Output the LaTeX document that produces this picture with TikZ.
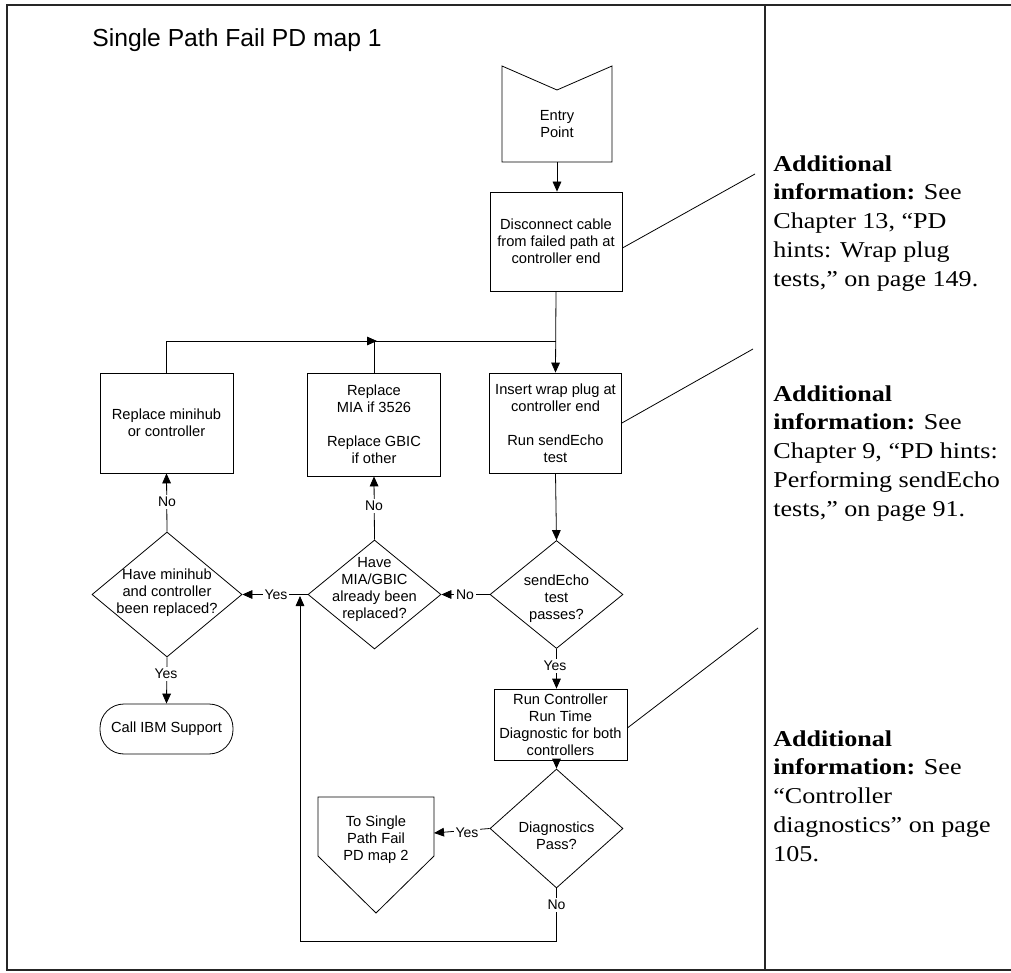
\documentclass[tikz,border=0pt]{standalone}
\usepackage{fontspec}
\setmainfont{Liberation Sans}
\newfontfamily\serifside[FakeStretch=1.15]{Liberation Serif}
\usetikzlibrary{arrows.meta,calc,shapes.geometric}
\begin{document}
\begin{tikzpicture}[x=0.75pt,y=-0.75pt,
  line width=0.6pt,
  every node/.style={inner sep=0pt},
  flowfont/.style={font=\fontsize{11}{12.75}\selectfont},
  flowbox/.style={draw, rectangle, align=center, flowfont},
  diam/.style={draw, diamond},
  dtext/.style={align=center, flowfont},
  lbl/.style={fill=white, inner sep=1.5pt, font=\fontsize{10.5}{12}\selectfont},
  arr/.style={-{Triangle[length=7.5pt,width=6.5pt]}},
  frame/.style={line width=1.2pt, black!85},
  side/.style={align=left, font=\serifside\fontsize{17}{21.6}\selectfont}
]
\useasboundingbox (0,0) rectangle (1011,973);
% frame
\draw[frame] (1011,5) -- (7,5) -- (7,970) -- (1011,970);
\draw[frame] (765,5) -- (765,970);

% title
\node[anchor=base west, font=\fontsize{18.5}{22}\selectfont] (title) at (92,47) {Single Path Fail PD map 1};

% entry point
\draw (502,66) -- (557,90) -- (612,66) -- (612,162) -- (502,162) -- cycle;
\node[minimum width=82.5pt, minimum height=72pt] (entry) at (557,114) {};
\node[dtext] (entrytxt) at (557,124) {Entry\\Point};

% boxes
\node[flowbox, minimum width=99pt, minimum height=74.25pt] (disc) at (556,241.5) {Disconnect cable\\from failed path at\\controller end};
\node[flowbox, minimum width=99pt, minimum height=75pt] (wrap) at (555.5,423) {Insert wrap plug at\\controller end\\\mbox{}\\Run sendEcho\\test};
\node[flowbox, minimum width=99.75pt, minimum height=77.25pt] (mia) at (374,424.5) {Replace\\MIA if 3526\\\mbox{}\\Replace GBIC\\if other};
\node[flowbox, minimum width=99.75pt, minimum height=75pt] (minibox) at (166.5,423) {Replace minihub\\or controller};
\node[flowbox, rounded corners=18pt, minimum width=99.75pt, minimum height=37.5pt] (ibm) at (166.5,729) {Call IBM Support};
\node[flowbox, minimum width=99.75pt, minimum height=53.25pt] (run) at (560.5,724.5) {Run Controller\\Run Time\\Diagnostic for both\\controllers};

% diamonds
\node[diam, minimum width=99.75pt, minimum height=81pt] (send) at (556.5,594.5) {};
\node[dtext] (sendtxt) at (556.5,599) {sendEcho\\test\\passes?};
\node[diam, minimum width=99.75pt, minimum height=81.75pt] (miadia) at (374.5,594.5) {};
\node[dtext] (miadiatxt) at (374.5,589) {Have\\MIA/GBIC\\already been\\replaced?};
\node[diam, minimum width=112.5pt, minimum height=93.75pt] (minidia) at (167,594.5) {};
\node[dtext] (minidiatxt) at (167,593) {Have minihub\\and controller\\been replaced?};
\node[diam, minimum width=99.75pt, minimum height=89.25pt] (diag) at (556.5,828.5) {};
\node[dtext] (diagtxt) at (556.5,836) {Diagnostics\\Pass?};

% off-page connector
\draw (318,797) -- (434,797) -- (434,856) -- (376,913) -- (318,856) -- cycle;
\node[dtext] (offtxt) at (376,840) {To Single\\Path Fail\\PD map 2};
\coordinate (offeast) at (434,833);

% coordinates
\coordinate (j1) at (377,341);
\coordinate (j2) at (556,341);
\coordinate (loopc) at (556.5,941);
\coordinate (loopend) at (300,596);
\coordinate (c1) at (755,174);
\coordinate (c2) at (753,349);
\coordinate (c3) at (758,628);

% connectors
\draw[arr] (entry.south) -- (entry.south |- disc.north);
\draw[arr] (disc.south) -- (wrap.north);
\draw[arr] (minibox.north) |- (j1);
\draw (mia.north) |- (j2);
\draw[arr] (wrap.south) -- (send.north);
\draw[arr] (send.west) -- (miadia.east);
\draw[arr] (miadia.north) -- (mia.south);
\draw[arr] (miadia.west) -- (minidia.east);
\draw[arr] (minidia.north) -- (minibox.south);
\draw[arr] (minidia.south) -- (ibm.north);
\draw[arr] (send.south) -- (send.south |- run.north);
\draw[arr] (diag.north |- run.south) -- (diag.north);
\draw[arr] (diag.west) -- (offeast);
\draw[arr] (diag.south) -- (loopc) -| (loopend);

% callouts
\draw ([yshift=-4.9pt]disc.east) -- (c1);
\draw (wrap.east) -- (c2);
\draw ([yshift=-2.6pt]run.east) -- (c3);

% labels
\node[lbl] (l1) at (465,594.5) {No};
\node[lbl] (l2) at (374,506) {No};
\node[lbl] (l3) at (276,594.5) {Yes};
\node[lbl] (l4) at (167,502) {No};
\node[lbl] (l5) at (166,674) {Yes};
\node[lbl] (l6) at (555,666) {Yes};
\node[lbl] (l7) at (467,833) {Yes};
\node[lbl] (l8) at (556.5,905) {No};

% side notes
\node[side, anchor=north west] (info1) at (773,155) {\textbf{Additional}\\\textbf{information:} See\\Chapter 13, “PD\\hints: Wrap plug\\tests,” on page 149.};
\node[side, anchor=north west] (info2) at (773,385) {\textbf{Additional}\\\textbf{information:} See\\Chapter 9, “PD hints:\\Performing sendEcho\\tests,” on page 91.};
\node[side, anchor=north west] (info3) at (773,730) {\textbf{Additional}\\\textbf{information:} See\\“Controller\\diagnostics” on page\\105.};
\end{tikzpicture}
\end{document}
